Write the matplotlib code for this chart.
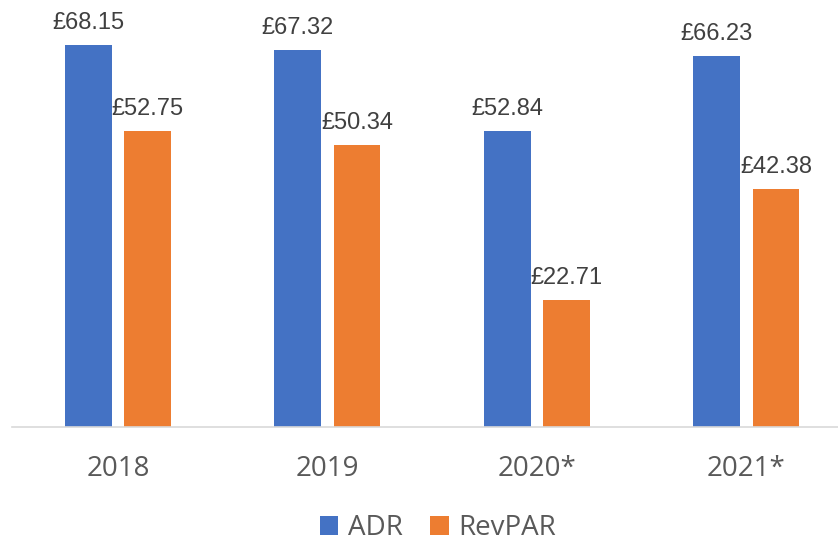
import matplotlib.pyplot as plt
import numpy as np

categories = ["2018", "2019", "2020*", "2021*"]
adr = [68.15, 67.32, 52.84, 66.23]
revpar = [52.75, 50.34, 22.71, 42.38]
series_names = ["ADR", "RevPAR"]
colors = ["#4472C4", "#ED7D31"]

fig = plt.figure(figsize=(8.38, 5.41), dpi=100)
ax = fig.add_axes([12/838, 1 - 427/541, (838 - 12)/838, 420.4/541])

x = np.arange(len(categories))
w = 0.224
off = 0.141
b1 = ax.bar(x - off, adr, w, color=colors[0], label=series_names[0], zorder=2)
b2 = ax.bar(x + off, revpar, w, color=colors[1], label=series_names[1], zorder=2)

for bars, vals in ((b1, adr), (b2, revpar)):
    for rect, v in zip(bars, vals):
        ax.annotate(f"£{v:.2f}", (rect.get_x() + rect.get_width()/2, v),
                    xytext=(0, 11.5), textcoords="offset points",
                    ha="center", va="baseline", fontsize=17,
                    family="Liberation Sans", color="#404040")

ax.set_xlim(-0.506, 3.437)
ax.set_ylim(0, 75)
ax.set_xticks(x)
ax.set_xticklabels(categories, fontsize=20, family="Open Sans", color="#595959")
ax.tick_params(axis="x", length=0, pad=20)
ax.set_yticks([])
for s in ["top", "right", "left"]:
    ax.spines[s].set_visible(False)
ax.spines["bottom"].set_color("#d9d9d9")
ax.spines["bottom"].set_linewidth(1.2)

leg = fig.legend(handles=[b1, b2], labels=series_names, loc="center",
                 bbox_to_anchor=(438/838, 1 - 528/541), ncol=2, frameon=False,
                 prop={"family": "Open Sans", "size": 20},
                 handlelength=0.65, handleheight=0.65, handletextpad=0.35,
                 columnspacing=1.0, borderpad=0.1)
for t in leg.get_texts():
    t.set_color("#595959")

fig.savefig("out.png", dpi=100)
